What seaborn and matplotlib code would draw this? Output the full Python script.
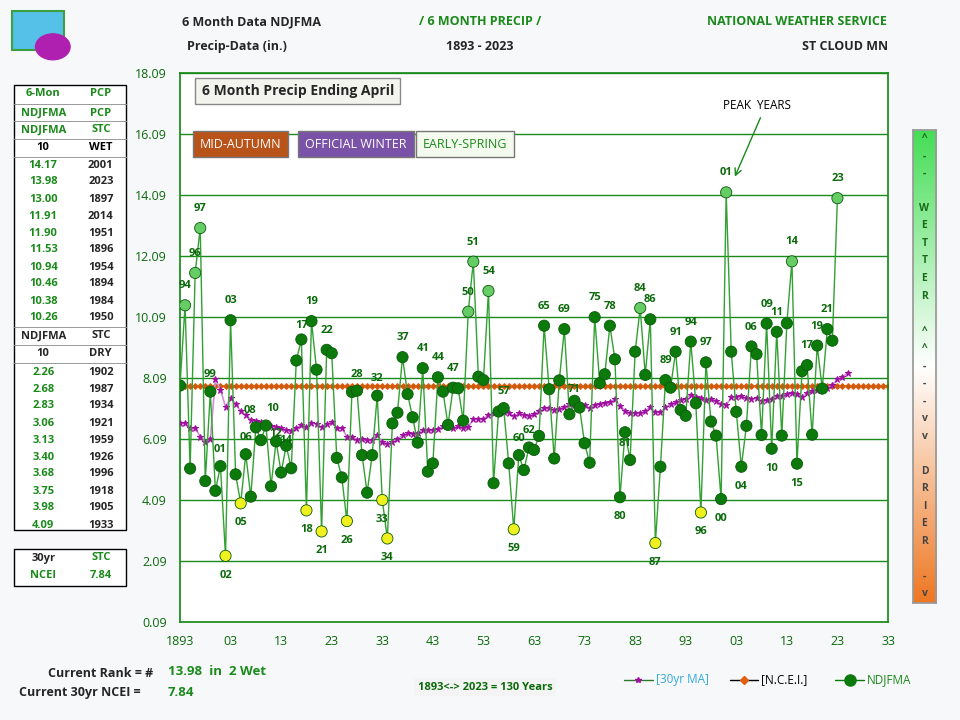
"""
plot.py - St Cloud MN 6 month (NDJFMA) precipitation, 1893-2023.
"""
import numpy as np
import pandas as pd
import matplotlib
matplotlib.use("Agg")
import matplotlib.pyplot as plt
from matplotlib.patches import Rectangle
import seaborn as sns

# ---- data ----
years = list(range(1893, 2024))
precip = [
    7.84, 10.47, 5.12, 11.53, 13.00, 4.71, 7.64, 4.39, 5.20, 2.26,   # 1893-1902
    9.98, 4.93, 3.98, 5.59, 4.20, 6.47, 6.05, 6.53, 4.54, 6.01,      # 1903-1912
    4.99, 5.87, 5.13, 8.66, 9.35, 3.75, 9.95, 8.36, 3.06, 9.01,      # 1913-1922
    8.90, 5.47, 4.83, 3.40, 7.63, 7.67, 5.56, 4.33, 5.56, 7.51,      # 1923-1932
    4.09, 2.83, 6.60, 6.95, 8.77, 7.56, 6.80, 5.97, 8.41, 5.02,      # 1933-1942
    5.29, 8.11, 7.64, 6.55, 7.77, 7.75, 6.69, 10.26, 11.90, 8.13,    # 1943-1952
    8.02, 10.94, 4.64, 6.99, 7.10, 5.29, 3.13, 5.56, 5.07, 5.81,     # 1953-1962
    5.73, 6.19, 9.80, 7.72, 5.45, 8.01, 9.69, 6.90, 7.34, 7.12,      # 1963-1972
    5.95, 5.31, 10.08, 7.92, 8.21, 9.80, 8.70, 4.18, 6.31, 5.40,     # 1973-1982
    8.95, 10.38, 8.19, 10.01, 2.68, 5.18, 8.02, 7.77, 8.95, 7.04,    # 1983-1992
    6.85, 9.28, 7.26, 3.68, 8.60, 6.66, 6.20, 4.12, 14.17, 8.95,     # 1993-2002
    6.98, 5.18, 6.52, 9.12, 8.87, 6.22, 9.87, 5.77, 9.60, 6.20,      # 2003-2012
    9.88, 11.91, 5.28, 8.31, 8.51, 6.23, 9.15, 7.74, 9.69, 9.31,     # 2013-2022
    13.98,                                                           # 2023
]
ma_years = list(range(1893, 2026))
ma30 = [
    6.60, 6.60, 6.44, 6.44, 6.17, 6.00, 6.08, 8.05, 7.70, 7.15,
    7.42, 7.24, 6.99, 6.88, 6.71, 6.69, 6.64, 6.60, 6.52, 6.49,
    6.44, 6.39, 6.36, 6.44, 6.55, 6.47, 6.60, 6.58, 6.47, 6.57,
    6.64, 6.44, 6.44, 6.17, 6.17, 6.06, 6.08, 6.04, 6.04, 6.22,
    6.00, 5.93, 6.00, 6.08, 6.22, 6.28, 6.26, 6.30, 6.39, 6.37,
    6.37, 6.42, 6.50, 6.55, 6.44, 6.50, 6.44, 6.47, 6.75, 6.75,
    6.74, 6.88, 6.93, 6.96, 6.98, 6.95, 6.84, 6.93, 6.88, 6.85,
    6.91, 7.02, 7.09, 7.12, 7.04, 7.07, 7.13, 7.23, 7.21, 7.15,
    7.20, 7.09, 7.20, 7.24, 7.26, 7.29, 7.40, 7.17, 7.02, 6.93,
    6.95, 6.93, 7.00, 7.13, 6.96, 6.97, 7.13, 7.24, 7.29, 7.37,
    7.41, 7.54, 7.46, 7.42, 7.37, 7.39, 7.35, 7.23, 7.21, 7.45,
    7.48, 7.50, 7.42, 7.40, 7.42, 7.34, 7.37, 7.41, 7.51, 7.51,
    7.57, 7.61, 7.56, 7.48, 7.61, 7.67, 7.70, 7.74, 7.75, 7.86,
    8.04, 8.13, 8.24,
]
ncei_years = list(range(1893, 2034))
ncei_value = 7.84

wet_years = [2001, 2023, 1897, 2014, 1951, 1896, 1954, 1894, 1984, 1950]
wet_vals = ["14.17", "13.98", "13.00", "11.91", "11.90", "11.53", "10.94", "10.46", "10.38", "10.26"]
dry_years = [1902, 1987, 1934, 1921, 1959, 1926, 1996, 1918, 1905, 1933]
dry_vals = ["2.26", "2.68", "2.83", "3.06", "3.13", "3.40", "3.68", "3.75", "3.98", "4.09"]

# labelled points: year -> (dx, dy) label offset in points, positive dy = above
labels = {
    1894: (0, 14), 1896: (0, 14), 1897: (0, 14), 1899: (0, 12), 1901: (0, 12), 1902: (0, -14),
    1903: (0, 14), 1905: (0, -14), 1906: (0, 12), 1908: (-4, 12), 1910: (5, 12), 1912: (0, 6),
    1914: (0, 4), 1917: (0, 10), 1918: (0, -14), 1919: (0, 14), 1921: (0, -14), 1922: (0, 14),
    1926: (0, -14), 1928: (0, 12), 1932: (0, 12), 1933: (0, -14), 1934: (0, -14), 1937: (0, 14),
    1941: (0, 14), 1944: (0, 14), 1947: (0, 14), 1950: (0, 14), 1951: (0, 14), 1954: (0, 14),
    1957: (0, 12), 1959: (0, -14), 1960: (0, 12), 1962: (0, 12), 1965: (0, 14), 1969: (0, 14),
    1971: (0, 8), 1975: (0, 14), 1978: (0, 14), 1980: (0, -14), 1981: (0, -8), 1984: (0, 14),
    1986: (0, 14), 1987: (0, -14), 1989: (0, 14), 1991: (0, 14), 1994: (0, 14), 1996: (0, -14),
    1997: (0, 14), 2000: (0, -14), 2001: (0, 14), 2004: (0, -14), 2006: (0, 14), 2009: (0, 14),
    2010: (0, -14), 2011: (0, 14), 2014: (0, 14), 2015: (0, -14), 2017: (0, 14), 2019: (0, 14),
    2021: (0, 14), 2023: (0, 14),
}

GREEN = "#1a8a1a"
DKGREEN = "#0a6a0a"

df = pd.DataFrame({"year": years, "precip": precip})
df["kind"] = "normal"
df.loc[df["year"].isin(wet_years), "kind"] = "wet"
df.loc[df["year"].isin(dry_years), "kind"] = "dry"
ma_df = pd.DataFrame({"year": ma_years, "ma": ma30})
ncei_df = pd.DataFrame({"year": ncei_years, "ncei": [ncei_value] * len(ncei_years)})

sns.set_theme(style="white")
plt.rcParams["font.family"] = ["Open Sans", "DejaVu Sans"]

fig = plt.figure(figsize=(9.6, 7.2), dpi=100)
fig.patch.set_facecolor("#f7f8fa")
ax = fig.add_axes([0.1875, 0.136, 0.7375, 0.763])
ax.set_facecolor("white")

for yv in np.arange(2.09, 18.1, 2):
    ax.axhline(yv, color=GREEN, lw=1, zorder=1)

sns.lineplot(data=ncei_df, x="year", y="ncei", ax=ax, color="#c85a10", lw=1.2,
             marker="D", markersize=3, markeredgecolor="#e06010", zorder=2)
sns.lineplot(data=ma_df, x="year", y="ma", ax=ax, color="#d090d8", lw=1.2,
             marker="*", markersize=4.5, markerfacecolor="#a010a0", markeredgecolor="#a010a0", zorder=3)
sns.lineplot(data=df, x="year", y="precip", ax=ax, color="#33a033", lw=1, zorder=4)
palette = {"normal": "#0b7a0b", "wet": "#66cc66", "dry": "#f0f020"}
sns.scatterplot(data=df, x="year", y="precip", hue="kind", palette=palette, ax=ax,
                s=65, edgecolor="#0a5a0a", linewidth=0.6, legend=False, zorder=5)

for yr, (dx, dy) in labels.items():
    v = precip[years.index(yr)]
    ax.annotate(f"{yr % 100:02d}", (yr, v), xytext=(dx, dy), textcoords="offset points",
                ha="center", va="center", fontsize=8, color=DKGREEN, fontweight="bold", zorder=6)

ax.text(2007, 16.9, "PEAK  YEARS", fontsize=8.5, color="black", ha="center")
ax.annotate("", xy=(2002.5, 14.6), xytext=(2008, 16.7),
            arrowprops=dict(arrowstyle="->", color=GREEN))

ax.set_xlim(1893, 2033)
ax.set_ylim(0.09, 18.09)
ax.set_xticks(range(1893, 2034, 10))
ax.set_xticklabels([f"{y % 100:02d}" if y != 1893 else "1893" for y in range(1893, 2034, 10)],
                   color=DKGREEN, fontsize=9)
ax.set_yticks(np.arange(0.09, 18.1, 2))
ax.set_yticklabels([f"{v:.2f}" for v in np.arange(0.09, 18.1, 2)], color=DKGREEN, fontsize=9)
ax.set_xlabel("")
ax.set_ylabel("")
for s in ax.spines.values():
    s.set_color(GREEN)

# ---- header text ----
fig.text(0.19, 0.965, "6 Month Data NDJFMA", fontsize=9, fontweight="bold")
fig.text(0.195, 0.93, "Precip-Data (in.)", fontsize=9, fontweight="bold")
fig.text(0.50, 0.965, "/ 6 MONTH PRECIP /", fontsize=9, fontweight="bold", color=GREEN, ha="center")
fig.text(0.50, 0.93, "1893 - 2023", fontsize=9, fontweight="bold", ha="center")
fig.text(0.83, 0.965, "NATIONAL WEATHER SERVICE", fontsize=9, fontweight="bold", color=GREEN, ha="center")
fig.text(0.88, 0.93, "ST CLOUD MN", fontsize=9, fontweight="bold", ha="center")

# drop icon
fig.patches.append(Rectangle((0.012, 0.93), 0.055, 0.055, transform=fig.transFigure,
                             facecolor="#55c0e8", edgecolor="#3aa040", lw=1.5))
fig.patches.append(plt.Circle((0.055, 0.935), 0.018, transform=fig.transFigure, color="#b020b0"))

# boxes in the plot
fig.text(0.21, 0.868, "6 Month Precip Ending April", fontsize=10, fontweight="bold",
         bbox=dict(boxstyle="square,pad=0.45", fc="#f4f4ee", ec="#888888"))
fig.text(0.208, 0.795, "MID-AUTUMN", fontsize=9, color="white",
         bbox=dict(boxstyle="square,pad=0.55", fc="#b8531a", ec="#777777"))
fig.text(0.318, 0.795, "OFFICIAL WINTER", fontsize=9, color="white",
         bbox=dict(boxstyle="square,pad=0.55", fc="#7a52a8", ec="#777777"))
fig.text(0.44, 0.795, "EARLY-SPRING", fontsize=9, color=GREEN,
         bbox=dict(boxstyle="square,pad=0.55", fc="#f4fbee", ec="#777777"))

# ---- left tables ----
fig.patches.append(Rectangle((0.015, 0.264), 0.116, 0.618, transform=fig.transFigure,
                             facecolor="white", edgecolor="black", lw=1))
header = [("6-Mon", "PCP", 94, GREEN, GREEN), ("NDJFMA", "PCP", 113, GREEN, GREEN),
          ("NDJFMA", "STC", 130, GREEN, GREEN), ("10", "WET", 148, "black", "black")]
for a, b, ypx, ca, cb in header:
    fig.text(0.045, 1 - ypx / 720, a, fontsize=8, fontweight="bold", color=ca, ha="center", va="center")
    fig.text(0.105, 1 - ypx / 720, b, fontsize=8, fontweight="bold", color=cb, ha="center", va="center")
for i, (v, yr) in enumerate(zip(wet_vals, wet_years)):
    ypx = 165 + i * 17
    fig.text(0.045, 1 - ypx / 720, v, fontsize=8, fontweight="bold", color=GREEN, ha="center", va="center")
    fig.text(0.105, 1 - ypx / 720, str(yr), fontsize=8, fontweight="bold", ha="center", va="center")
fig.text(0.045, 1 - 336 / 720, "NDJFMA", fontsize=8, fontweight="bold", ha="center", va="center")
fig.text(0.105, 1 - 336 / 720, "STC", fontsize=8, fontweight="bold", ha="center", va="center")
fig.text(0.045, 1 - 354 / 720, "10", fontsize=8, fontweight="bold", ha="center", va="center")
fig.text(0.105, 1 - 354 / 720, "DRY", fontsize=8, fontweight="bold", ha="center", va="center")
for i, (v, yr) in enumerate(zip(dry_vals, dry_years)):
    ypx = 372 + i * 17
    fig.text(0.045, 1 - ypx / 720, v, fontsize=8, fontweight="bold", color=GREEN, ha="center", va="center")
    fig.text(0.105, 1 - ypx / 720, str(yr), fontsize=8, fontweight="bold", ha="center", va="center")
for ypx in [104, 121, 139, 157, 327, 345, 363]:
    fig.lines.append(plt.Line2D([0.015, 0.131], [1 - ypx / 720] * 2, transform=fig.transFigure,
                                color="#999999", lw=0.7))

fig.patches.append(Rectangle((0.015, 0.186), 0.116, 0.052, transform=fig.transFigure,
                             facecolor="white", edgecolor="black", lw=1))
fig.text(0.045, 1 - 558 / 720, "30yr", fontsize=8, fontweight="bold", ha="center", va="center")
fig.text(0.105, 1 - 558 / 720, "STC", fontsize=8, fontweight="bold", color=GREEN, ha="center", va="center")
fig.text(0.045, 1 - 576 / 720, "NCEI", fontsize=8, fontweight="bold", color=GREEN, ha="center", va="center")
fig.text(0.105, 1 - 576 / 720, "7.84", fontsize=8, fontweight="bold", color=GREEN, ha="center", va="center")

# ---- right wetter/drier bar ----
grad = np.linspace(0, 1, 256).reshape(-1, 1)
cax = fig.add_axes([0.951, 0.163, 0.024, 0.657])
cmap = matplotlib.colors.LinearSegmentedColormap.from_list("wd", ["#44dd55", "#ffffff", "#ee7722"])
cax.imshow(grad, aspect="auto", cmap=cmap)
cax.set_xticks([])
cax.set_yticks([])
for s in cax.spines.values():
    s.set_color("#999999")
side = ["^", "-", "-", "", "W", "E", "T", "T", "E", "R", "", "^", "^", "-", "-", "-", "v", "v",
        "", "D", "R", "I", "E", "R", "", "-", "v"]
for i, ch in enumerate(side):
    cax.text(0.5, 1 - (i + 0.5) / len(side), ch, transform=cax.transAxes, ha="center", va="center",
             fontsize=7.5, fontweight="bold", color="#1a6a1a" if i < 13 else "#444444")

# ---- bottom text ----
fig.text(0.05, 0.06, "Current Rank = #", fontsize=9, fontweight="bold")
fig.text(0.175, 0.063, "13.98  in  2 Wet", fontsize=9.5, fontweight="bold", color=GREEN)
fig.text(0.02, 0.033, "Current 30yr NCEI =", fontsize=9, fontweight="bold")
fig.text(0.175, 0.033, "7.84", fontsize=9.5, fontweight="bold", color=GREEN)
fig.text(0.435, 0.042, "1893<-> 2023 = 130 Years", fontsize=8, fontweight="bold", color=DKGREEN,
         bbox=dict(boxstyle="square,pad=0.3", fc="#f4f4f4", ec="none"))

# legend
for x0, lab, col, mk, mc, lc in [(0.65, "[30yr MA]", "#33aadd", "*", "#a010a0", "#2a7a2a"),
                                 (0.76, "[N.C.E.I.]", "black", "D", "#e06010", "black"),
                                 (0.87, "NDJFMA", GREEN, "o", "#0b7a0b", "#0b7a0b")]:
    fig.lines.append(plt.Line2D([x0, x0 + 0.03], [0.056, 0.056], transform=fig.transFigure,
                                color=lc, lw=1))
    fig.lines.append(plt.Line2D([x0 + 0.015], [0.056], transform=fig.transFigure, marker=mk,
                                color=mc, markersize=8 if mk == "o" else 4))
    fig.text(x0 + 0.033, 0.056, lab, fontsize=8.5, color=col, va="center")

fig.savefig("out.png", dpi=100, facecolor=fig.get_facecolor())
plt.close(fig)
